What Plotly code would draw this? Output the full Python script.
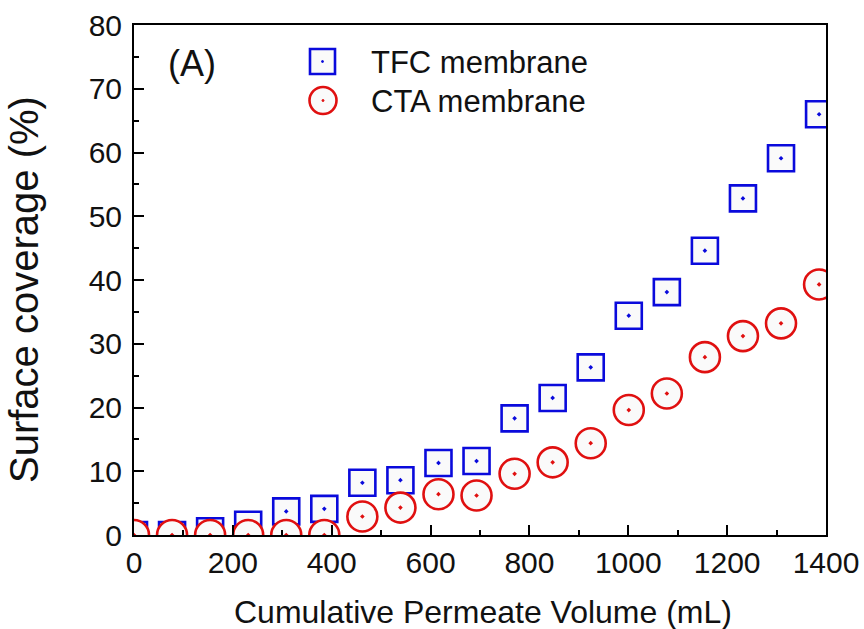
import plotly.graph_objects as go

volume_ml = [0, 77, 154, 231, 308, 385, 462, 539, 616, 693, 770, 847, 924, 1001, 1078, 1155, 1232, 1309, 1386]
tfc_coverage = [0.0, 0.0, 0.6, 1.6, 3.7, 4.1, 8.2, 8.6, 11.3, 11.6, 18.3, 21.5, 26.3, 34.4, 38.1, 44.6, 52.8, 59.1, 66.0]
cta_coverage = [0.0, 0.0, 0.0, 0.0, 0.0, 0.0, 2.9, 4.3, 6.4, 6.2, 9.6, 11.4, 14.4, 19.6, 22.2, 27.9, 31.2, 33.2, 39.3]
series_names = ["TFC membrane", "CTA membrane"]

FONT = "Liberation Sans, Arial, sans-serif"
TXT = "#111"
BLUE = "#0A0ADC"
RED = "#E01010"
FILL = "rgba(250,250,250,1)"

W, H = 864, 629
ML, MR, MT, MB = 134, 38, 25, 94
PW, PH = W - ML - MR, H - MT - MB


def px(x):
    return (x - ML) / PW


def py(y):
    return (H - MB - y) / PH


fig = go.Figure()
fig.add_trace(go.Scatter(
    x=volume_ml, y=tfc_coverage, mode="markers", name=series_names[0], showlegend=False,
    marker=dict(symbol="square-dot", size=26, color=FILL, line=dict(color=BLUE, width=2.6)),
))
fig.add_trace(go.Scatter(
    x=volume_ml, y=cta_coverage, mode="markers", name=series_names[1], showlegend=False,
    marker=dict(symbol="circle-dot", size=30, color=FILL, line=dict(color=RED, width=2.6)),
))

axis_common = dict(
    showline=True, linecolor="black", linewidth=2, mirror=True,
    ticks="inside", ticklen=10, tickwidth=2, tickcolor="black",
    showgrid=False, zeroline=False, automargin=False,
    tickfont=dict(family=FONT, size=30, color=TXT),
)

fig.update_xaxes(
    range=[0, 1400], dtick=200, tick0=0,
    minor=dict(ticks="inside", ticklen=5, tickwidth=2, tickcolor="black", dtick=100),
    **axis_common,
)
fig.update_yaxes(
    range=[0, 80], dtick=10, tick0=0, ticklabelstandoff=4,
    minor=dict(ticks="inside", ticklen=5, tickwidth=2, tickcolor="black", dtick=5),
    **axis_common,
)

# axis titles
fig.add_annotation(
    text="Cumulative Permeate Volume (mL)", xref="paper", yref="paper", x=px(483), y=py(612),
    xanchor="center", yanchor="middle", showarrow=False,
    font=dict(family=FONT, size=32, color=TXT),
)
fig.add_annotation(
    text="Surface coverage (%)", xref="paper", yref="paper", x=px(24), y=py(290),
    xanchor="center", yanchor="middle", textangle=-90, showarrow=False,
    font=dict(family=FONT, size=40, color=TXT),
)
# panel label
fig.add_annotation(
    text="(A)", xref="paper", yref="paper", x=px(166), y=py(64),
    xanchor="left", yanchor="middle", showarrow=False,
    font=dict(family=FONT, size=36, color=TXT),
)

# custom legend (larger symbols than plotly's legend allows)
sq_c, sq_s = (322.5, 61.5), 25
ci_c, ci_d = (323, 100.5), 27
fig.add_shape(type="rect", xref="paper", yref="paper",
              x0=px(sq_c[0] - sq_s / 2), x1=px(sq_c[0] + sq_s / 2),
              y0=py(sq_c[1] + sq_s / 2), y1=py(sq_c[1] - sq_s / 2),
              line=dict(color=BLUE, width=2.6), fillcolor=FILL)
fig.add_shape(type="circle", xref="paper", yref="paper",
              x0=px(sq_c[0] - 1), x1=px(sq_c[0] + 1), y0=py(sq_c[1] + 1), y1=py(sq_c[1] - 1),
              line=dict(color=BLUE, width=1), fillcolor=BLUE)
fig.add_shape(type="circle", xref="paper", yref="paper",
              x0=px(ci_c[0] - ci_d / 2), x1=px(ci_c[0] + ci_d / 2),
              y0=py(ci_c[1] + ci_d / 2), y1=py(ci_c[1] - ci_d / 2),
              line=dict(color=RED, width=2.6), fillcolor=FILL)
fig.add_shape(type="circle", xref="paper", yref="paper",
              x0=px(ci_c[0] - 1), x1=px(ci_c[0] + 1), y0=py(ci_c[1] + 1), y1=py(ci_c[1] - 1),
              line=dict(color=RED, width=1), fillcolor=RED)
for name, yc in zip(series_names, [63, 101]):
    fig.add_annotation(
        text=name, xref="paper", yref="paper", x=px(369), y=py(yc),
        xanchor="left", yanchor="middle", showarrow=False,
        font=dict(family=FONT, size=31, color=TXT),
    )

fig.update_layout(
    width=W, height=H,
    margin=dict(l=ML, r=MR, t=MT, b=MB),
    plot_bgcolor="white", paper_bgcolor="white",
    showlegend=False,
)

fig.write_html("out.html")
